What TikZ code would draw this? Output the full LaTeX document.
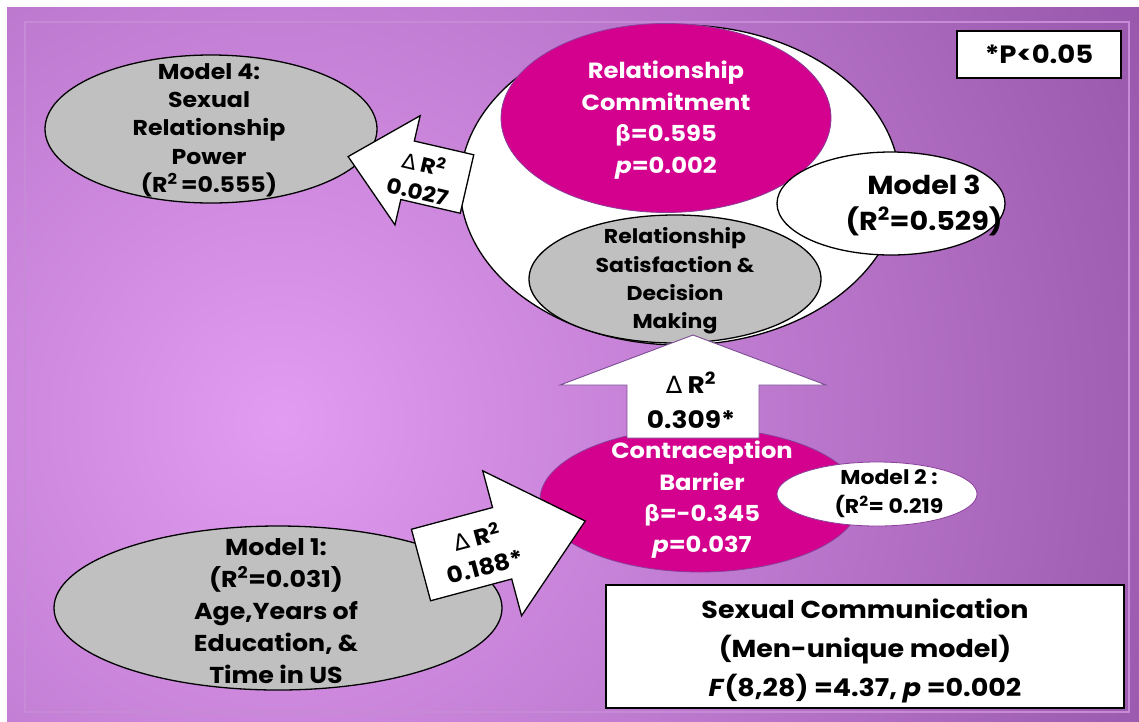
\documentclass[tikz,border=0pt]{standalone}
\usepackage{fontspec}
\setmainfont{Poppins}[FakeStretch=1.1]
\newfontfamily\dv{DejaVu Sans}
\usetikzlibrary{shapes.geometric}
\definecolor{bgL}{HTML}{E29CF2}
\definecolor{bgD}{HTML}{86469A}
\definecolor{mag}{HTML}{D4008E}
\definecolor{gry}{HTML}{C0C0C0}
\definecolor{framec}{HTML}{C68AD6}
\definecolor{mline}{HTML}{8A3F9A}
\definecolor{upline}{HTML}{7B4B94}
\newcommand{\Dl}{{\dv\mdseries ∆}}
\newcommand{\bt}{{\dv\bfseries β}}
\newcommand{\sq}{\textsuperscript{2}}
\begin{document}
\begin{tikzpicture}[x=1pt,y=-1pt,
  shp/.style={ellipse, inner sep=0pt, outer sep=0pt},
  grayell/.style={shp, draw=black, fill=gry, line width=1.3pt},
  whiteell/.style={shp, draw=black, fill=white, line width=1.3pt},
  magell/.style={shp, draw=mline, fill=mag, line width=0.8pt},
  btxt/.style={align=center, inner sep=0pt, text=black},
  wtxt/.style={align=center, inner sep=0pt, text=white},
  box/.style={draw=black, fill=white, line width=1.5pt, align=center, inner sep=0pt},
  blkarrow/.style={draw=black, fill=white, line width=1.3pt, line join=miter},
  uparrowst/.style={draw=upline, fill=white, line width=0.9pt, line join=miter}]
\useasboundingbox (0,0) rectangle (1139,721);
% background
\fill[white] (0,0) rectangle (1139,721);
\begin{scope}
  \clip (7,7) rectangle (1139,721);
  \shade[inner color=bgL, outer color=bgD] (280,420) circle (1200);
\end{scope}
\draw[framec, line width=1.5pt] (25,22) rectangle (1129,712);
% p box
\node[box, minimum width=164pt, minimum height=47pt, font=\bfseries\fontsize{25}{28}\selectfont] (pbox) at (1039,54.5) {*P<0.05};
% model 3 group
\node[whiteell, minimum width=440pt, minimum height=320pt] (big) at (680,185) {};
\node[magell, minimum width=330pt, minimum height=189pt] (commit) at (666,118) {};
\node[wtxt, font=\bfseries\fontsize{22}{31.7}\selectfont] (committxt) at (666,120) {Relationship\\Commitment\\\bt=0.595\\\textit{p}=0.002};
\node[whiteell, minimum width=228pt, minimum height=103pt] (m3) at (891,203.5) {};
\node[btxt, font=\bfseries\fontsize{26}{36}\selectfont] (m3txt) at (924,205) {Model 3\\(R\sq=0.529)};
\node[grayell, minimum width=292pt, minimum height=128pt] (sat) at (675,279) {};
\node[btxt, font=\bfseries\fontsize{20}{28.3}\selectfont] (sattxt) at (675,281) {Relationship\\Satisfaction \&\\Decision\\Making};
% model 4
\node[grayell, minimum width=332pt, minimum height=148pt] (m4) at (211,129) {};
\node[btxt, font=\bfseries\fontsize{21.5}{28.3}\selectfont] (m4txt) at (209,130) {Model 4:\\Sexual\\Relationship\\Power\\(R\sq\,=0.555)};
% left arrow
\begin{scope}[shift={(467,184)}, rotate=167]
  \draw[blkarrow] (0,-30) -- (61,-30) -- (61,-56) -- (122,0) -- (61,56) -- (61,30) -- (0,30) -- cycle;
\end{scope}
\node[btxt, rotate=-13, font=\bfseries\fontsize{21}{28}\selectfont] (latxt) at (421,177) {\Dl\ R\sq\\0.027};
% model 1
\node[grayell, minimum width=448pt, minimum height=164pt] (m1) at (278,608) {};
\node[btxt, font=\bfseries\fontsize{23}{32}\selectfont] (m1txt) at (276,611) {Model 1:\\(R\sq=0.031)\\Age,Years of\\Education, \&\\Time in US};
% contraception
\node[magell, minimum width=320pt, minimum height=144pt] (contra) at (700,500) {};
\node[wtxt, font=\bfseries\fontsize{22}{31.3}\selectfont] (contratxt) at (702,500) {Contraception\\Barrier\\\bt=-0.345\\\textit{p}=0.037};
\node[shp, draw=mline, fill=white, line width=0.8pt, minimum width=200pt, minimum height=64pt] (m2) at (877,494) {};
\node[btxt, font=\bfseries\fontsize{20}{29}\selectfont] (m2txt) at (889,494) {Model 2 :\\(R\sq= 0.219};
% diagonal arrow
\begin{scope}[shift={(421,565)}, rotate=15]
  \draw[blkarrow] (0,-37) -- (84,-37) -- (84,-75) -- (170,0) -- (84,75) -- (84,37) -- (0,37) -- cycle;
\end{scope}
\node[btxt, rotate=15, font=\bfseries\fontsize{22.5}{30}\selectfont] (datxt) at (481,551) {\Dl\ R\sq\\0.188*};
% up arrow
\begin{scope}[shift={(693,438)}, rotate=90]
  \draw[uparrowst] (0,-66) -- (53,-66) -- (53,-133) -- (103,0) -- (53,133) -- (53,66) -- (0,66) -- cycle;
\end{scope}
\node[btxt, font=\bfseries\fontsize{24}{35}\selectfont] (uatxt) at (691,400) {\Dl\ R\sq\\0.309*};
% summary box
\node[box, minimum width=518pt, minimum height=123pt] (sexbox) at (865,646.5) {};
\node[btxt, font=\bfseries\fontsize{24.5}{39}\selectfont] (sextxt) at (865,651) {Sexual Communication\\(Men-unique model)\\\textit{F}(8,28) =4.37, \textit{p} =0.002};
\end{tikzpicture}
\end{document}
